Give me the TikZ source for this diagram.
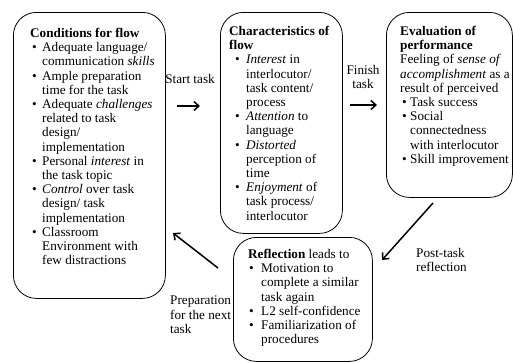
\documentclass[tikz,border=0pt]{standalone}
\usepackage{fontspec}
\setmainfont{Liberation Serif}
\usetikzlibrary{arrows.meta}
\newcommand{\bi}[2]{\makebox[#2][l]{\hspace*{#1}\textbullet}}
\begin{document}
\begin{tikzpicture}[x=1pt,y=-1pt,
  box/.style={draw, line width=0.8pt, rounded corners=23pt, anchor=north west, inner sep=0pt},
  txt/.style={anchor=north west, inner sep=0pt, align=left, font=\fontsize{13.2}{14.2}\selectfont},
  lbl/.style={inner sep=0pt, font=\fontsize{13.2}{14.2}\selectfont},
  arr/.style={line width=1.5pt, -{Straight Barb[length=5pt,width=9pt]}}]
\useasboundingbox (0,0) rectangle (513,362);

% boxes
\node[box, minimum width=152pt, minimum height=286pt] (b1) at (13,12) {};
\node[box, minimum width=122pt, minimum height=221pt] (b2) at (220,12) {};
\node[box, minimum width=126pt, minimum height=185pt] (b3) at (386,12) {};
\node[box, minimum width=139pt, minimum height=124pt] (b4) at (233,237) {};

% texts
\node[txt] (t1) at (30,28) {\textbf{Conditions for flow}\\
\bi{2pt}{12pt}Adequate language/\\
\hspace*{12pt}communication \textit{skills}\\
\bi{2pt}{12pt}Ample preparation\\
\hspace*{12pt}time for the task\\
\bi{2pt}{12pt}Adequate \textit{challenges}\\
\hspace*{12pt}related to task\\
\hspace*{12pt}design/\\
\hspace*{12pt}implementation\\
\bi{2pt}{12pt}Personal \textit{interest} in\\
\hspace*{12pt}the task topic\\
\bi{2pt}{12pt}\textit{Control} over task\\
\hspace*{12pt}design/ task\\
\hspace*{12pt}implementation\\
\bi{2pt}{12pt}Classroom\\
\hspace*{12pt}Environment with\\
\hspace*{12pt}few distractions};

\node[txt] (t2) at (229,26) {\textbf{Characteristics of}\\
\textbf{flow}\\
\bi{6pt}{17pt}\textit{Interest} in\\
\hspace*{17pt}interlocutor/\\
\hspace*{17pt}task content/\\
\hspace*{17pt}process\\
\bi{6pt}{17pt}\textit{Attention} to\\
\hspace*{17pt}language\\
\bi{6pt}{17pt}\textit{Distorted}\\
\hspace*{17pt}perception of\\
\hspace*{17pt}time\\
\bi{6pt}{17pt}\textit{Enjoyment} of\\
\hspace*{17pt}task process/\\
\hspace*{17pt}interlocutor};

\node[txt] (t3) at (400,26) {\textbf{Evaluation of}\\
\textbf{performance}\\
Feeling of \textit{sense of}\\
\textit{accomplishment} as a\\
result of perceived\\
\bi{2pt}{10pt}Task success\\
\bi{2pt}{10pt}Social\\
\hspace*{10pt}connectedness\\
\hspace*{10pt}with interlocutor\\
\bi{2pt}{10pt}Skill improvement};

\node[txt] (t4) at (248,249) {\textbf{Reflection} leads to\\
\bi{1pt}{13pt}Motivation to\\
\hspace*{13pt}complete a similar\\
\hspace*{13pt}task again\\
\bi{1pt}{13pt}L2 self-confidence\\
\bi{1pt}{13pt}Familiarization of\\
\hspace*{13pt}procedures};

% labels
\node[lbl, anchor=base] (l1) at (190,83) {Start task};
\node[lbl, anchor=north, align=center] (l2) at (363,65) {Finish\\task};
\node[lbl, anchor=north west, align=left] (l3) at (416,248) {Post-task\\reflection};
\node[lbl, anchor=north west, align=left] (l4) at (170,296) {Preparation\\for the next\\task};

% arrows
\coordinate (a1s) at (177,106); \coordinate (a1e) at (200,106);
\coordinate (a2s) at (350,105); \coordinate (a2e) at (377,105);
\coordinate (a3s) at (433,203); \coordinate (a3e) at (382,260);
\coordinate (a4s) at (218,268); \coordinate (a4e) at (173,233);
\draw[arr] (a1s) -- (a1e);
\draw[arr] (a2s) -- (a2e);
\draw[arr] (a3s) -- (a3e);
\draw[arr] (a4s) -- (a4e);
\end{tikzpicture}
\end{document}
